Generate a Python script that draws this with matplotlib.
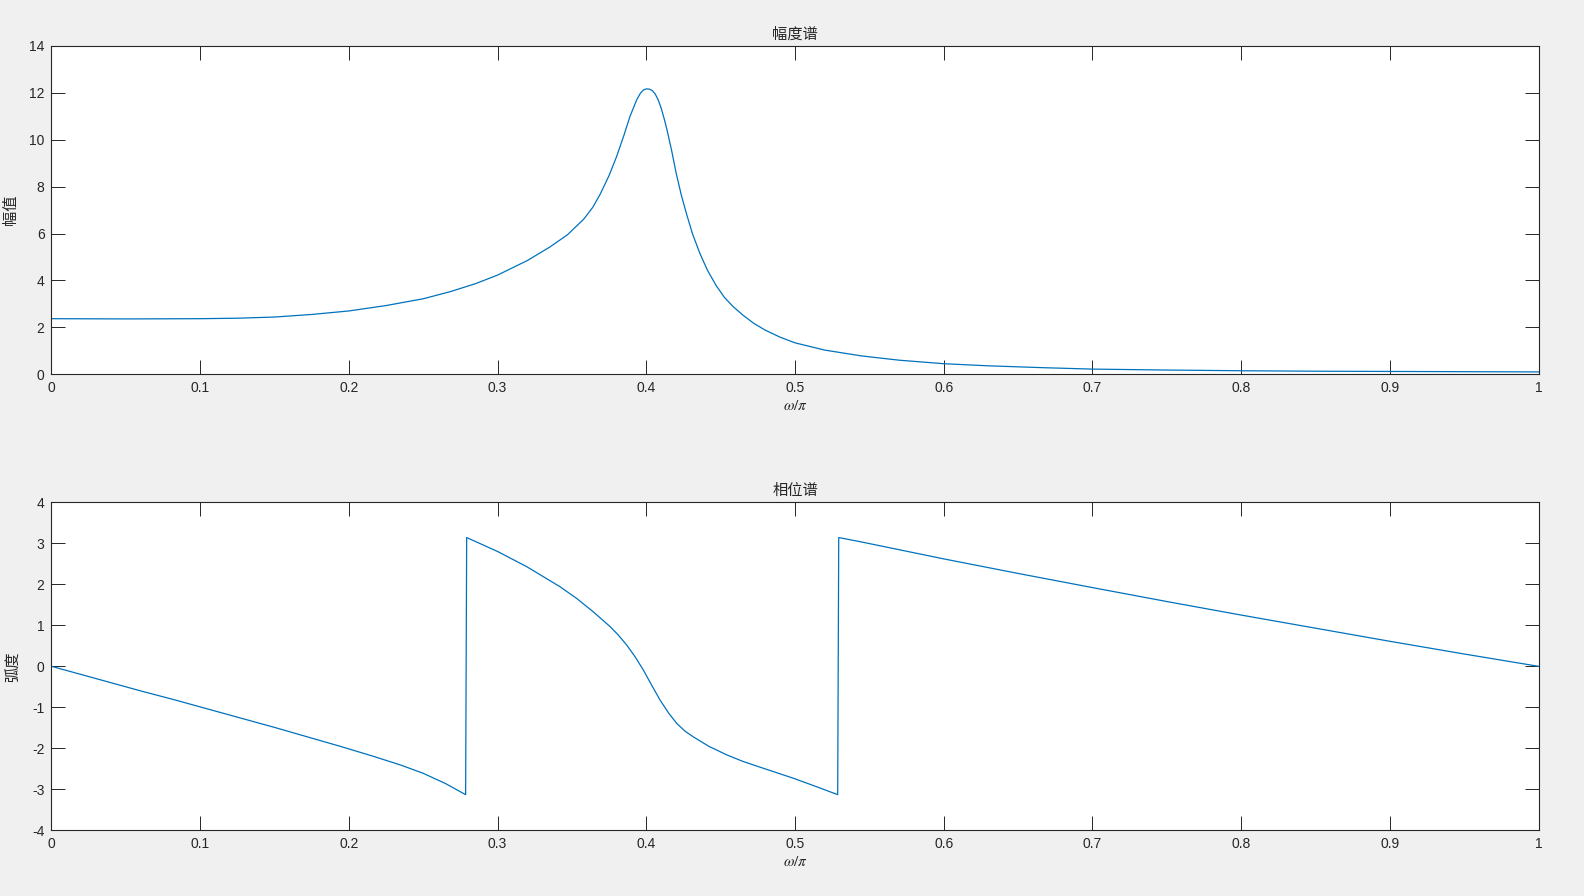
import matplotlib
matplotlib.use("Agg")
import matplotlib.pyplot as plt

plt.rcParams["font.family"] = ["Liberation Sans", "Noto Sans CJK SC", "DejaVu Sans"]
plt.rcParams["axes.unicode_minus"] = False
plt.rcParams["mathtext.fontset"] = "stix"

# magnitude spectrum
mag_w = [0, 0.05, 0.1, 0.125, 0.15, 0.175, 0.2, 0.225, 0.25, 0.268, 0.285,
         0.3, 0.32, 0.335, 0.347, 0.358, 0.364, 0.369, 0.375, 0.38, 0.385,
         0.389, 0.3935, 0.396, 0.398, 0.4, 0.402, 0.404, 0.406, 0.408, 0.41,
         0.412, 0.414, 0.417, 0.42, 0.4235, 0.427, 0.431, 0.436, 0.441, 0.447,
         0.4525, 0.4585, 0.465, 0.4723, 0.48, 0.49, 0.5, 0.52, 0.545, 0.57,
         0.6, 0.63, 0.667, 0.7, 0.75, 0.8, 0.85, 0.9, 0.95, 1.0]
mag_v = [2.37, 2.36, 2.37, 2.39, 2.44, 2.55, 2.70, 2.93, 3.22, 3.52, 3.86,
         4.23, 4.85, 5.42, 5.95, 6.62, 7.12, 7.68, 8.48, 9.28, 10.2,
         10.99, 11.70, 11.98, 12.12, 12.17, 12.16, 12.10, 11.95, 11.70, 11.35,
         10.90, 10.40, 9.55, 8.60, 7.65, 6.85, 6.0, 5.16, 4.45, 3.78,
         3.28, 2.88, 2.52, 2.17, 1.88, 1.58, 1.34, 1.03, 0.78, 0.60,
         0.45, 0.36, 0.28, 0.22, 0.18, 0.15, 0.13, 0.12, 0.11, 0.10]

# phase spectrum
ph_w = [0, 0.018, 0.037, 0.06, 0.082, 0.105, 0.127, 0.15, 0.172, 0.195,
        0.216, 0.235, 0.25, 0.265, 0.2785, 0.2792, 0.3, 0.3196, 0.342, 0.353,
        0.3643, 0.3756, 0.381, 0.3868, 0.3925, 0.398, 0.4036, 0.4092, 0.415,
        0.4204, 0.426, 0.4316, 0.442, 0.4541, 0.465, 0.4765, 0.4989, 0.514,
        0.5287, 0.5294, 0.5437, 0.6, 0.65, 0.7, 0.75, 0.8, 0.85, 0.9, 0.95, 1.0]
ph_v = [0, -0.18, -0.37, -0.60, -0.81, -1.04, -1.26, -1.49, -1.72, -1.96,
        -2.19, -2.41, -2.61, -2.86, -3.13, 3.14, 2.80, 2.43, 1.94, 1.66,
        1.33, 0.97, 0.77, 0.52, 0.23, -0.09, -0.46, -0.82, -1.14,
        -1.39, -1.58, -1.72, -1.95, -2.16, -2.32, -2.46, -2.73, -2.93,
        -3.13, 3.14, 3.04, 2.62, 2.265, 1.92, 1.58, 1.25, 0.93, 0.61, 0.30, 0.0]

x_ticks = [0, 0.1, 0.2, 0.3, 0.4, 0.5, 0.6, 0.7, 0.8, 0.9, 1]
x_labels = ["0", "0.1", "0.2", "0.3", "0.4", "0.5", "0.6", "0.7", "0.8", "0.9", "1"]

dark = "#262626"
blue = "#0072BD"

fig = plt.figure(figsize=(15.84, 8.96), dpi=100, facecolor="#f0f0f0")
ax1 = fig.add_axes([0.0325, 0.5823, 0.9388, 0.3664])
ax2 = fig.add_axes([0.0325, 0.0733, 0.9388, 0.3661])


def style(ax, yticks):
    ax.set_facecolor("white")
    ax.set_xlim(0, 1)
    ax.set_xticks(x_ticks)
    ax.set_xticklabels(x_labels)
    ax.set_yticks(yticks)
    ax.set_yticklabels([str(t) for t in yticks])
    ax.tick_params(direction="in", length=10, width=0.7, colors=dark,
                   labelsize=10, top=True, right=True, pad=5)
    for s in ax.spines.values():
        s.set_color(dark)
        s.set_linewidth(0.8)
    ax.set_xlabel(r"$\omega/\pi$", fontsize=11, color=dark, labelpad=3)


ax1.plot(mag_w, mag_v, color=blue, linewidth=0.9)
style(ax1, list(range(0, 15, 2)))
ax1.set_ylim(0, 14)
ax1.set_title("幅度谱", fontsize=11, color=dark, pad=5)
ax1.set_ylabel("幅值", fontsize=11, color=dark, labelpad=8)

ax2.plot(ph_w, ph_v, color=blue, linewidth=0.9)
style(ax2, list(range(-4, 5)))
ax2.set_ylim(-4, 4)
ax2.set_title("相位谱", fontsize=11, color=dark, pad=5)
ax2.set_ylabel("弧度", fontsize=11, color=dark, labelpad=8)

fig.savefig("out.png", dpi=100, facecolor=fig.get_facecolor())
